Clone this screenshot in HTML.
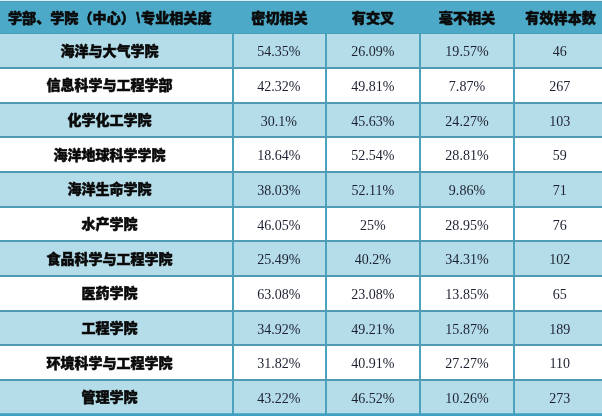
<!DOCTYPE html>
<html><head><meta charset="utf-8">
<style>
html,body{margin:0;padding:0;background:#fff;}
body{width:602px;height:416px;overflow:hidden;position:relative;}
.c{position:absolute;text-align:center;white-space:nowrap;width:300px;height:30px;line-height:30px;}
.h{font-family:"Liberation Sans","Noto Sans CJK SC",sans-serif;font-weight:900;font-size:14.1px;color:#0a0a0a;-webkit-text-stroke:0.5px #0a0a0a;}
.bs{margin:0 1px 0 1.3px;}
.n{font-family:"Liberation Sans","Noto Sans CJK SC",sans-serif;font-weight:900;font-size:14px;color:#0a0a0a;-webkit-text-stroke:0.5px #0a0a0a;}
.v{font-family:"Liberation Serif",serif;font-size:14.05px;color:#1c2030;transform:scale(1,1.1);}
</style></head><body>

<svg width="602" height="416" viewBox="0 0 602 416" style="position:absolute;left:0;top:0">
<rect x="0" y="0" width="602" height="34.00" fill="#4da9c8"/>
<rect x="0" y="0" width="602" height="1" fill="#d6f1f5"/>
<rect x="0" y="1" width="602" height="1" fill="#509fb8"/>
<rect x="0" y="33.00" width="602" height="1" fill="#4a9db8"/>
<rect x="0" y="34.00" width="602" height="34.00" fill="#b5dde9"/>
<rect x="0" y="103.00" width="602" height="34.00" fill="#b5dde9"/>
<rect x="0" y="172.00" width="602" height="35.00" fill="#b5dde9"/>
<rect x="0" y="241.00" width="602" height="35.00" fill="#b5dde9"/>
<rect x="0" y="311.00" width="602" height="34.00" fill="#b5dde9"/>
<rect x="0" y="380.00" width="602" height="35.00" fill="#b5dde9"/>
<rect x="232.00" y="34.00" width="2.00" height="390" fill="#4da3be"/>
<rect x="325.00" y="34.00" width="2.00" height="390" fill="#4da3be"/>
<rect x="419.00" y="34.00" width="2.00" height="390" fill="#4da3be"/>
<rect x="513.00" y="34.00" width="2.00" height="390" fill="#4da3be"/>
<rect x="0" y="67.00" width="602" height="2.00" fill="#4f9ab5"/>
<rect x="0" y="102.00" width="602" height="2.00" fill="#4f9ab5"/>
<rect x="0" y="136.00" width="602" height="2.00" fill="#4f9ab5"/>
<rect x="0" y="171.00" width="602" height="2.00" fill="#4f9ab5"/>
<rect x="0" y="206.00" width="602" height="2.00" fill="#4f9ab5"/>
<rect x="0" y="240.00" width="602" height="2.00" fill="#4f9ab5"/>
<rect x="0" y="275.00" width="602" height="2.00" fill="#4f9ab5"/>
<rect x="0" y="310.00" width="602" height="2.00" fill="#4f9ab5"/>
<rect x="0" y="344.00" width="602" height="2.00" fill="#4f9ab5"/>
<rect x="0" y="379.00" width="602" height="2.00" fill="#4f9ab5"/>
<rect x="0" y="413.25" width="602" height="3" fill="#3fa0bf"/>
</svg>
<div class="c h" style="left:8px;text-align:left;top:2.80px">学部、学院（中心）<span class="bs">\</span>专业相关度</div>
<div class="c h" style="left:129.50px;top:2.80px">密切相关</div>
<div class="c h" style="left:223.00px;top:2.80px">有交叉</div>
<div class="c h" style="left:317.00px;top:2.80px">毫不相关</div>
<div class="c h" style="left:410.60px;top:2.80px">有效样本数</div>
<div class="c n" style="left:-40.50px;top:35.65px">海洋与大气学院</div>
<div class="c v" style="left:128.90px;top:35.20px">54.35%</div>
<div class="c v" style="left:222.80px;top:35.20px">26.09%</div>
<div class="c v" style="left:317.00px;top:35.20px">19.57%</div>
<div class="c v" style="left:409.70px;top:35.20px">46</div>
<div class="c n" style="left:-40.50px;top:70.32px">信息科学与工程学部</div>
<div class="c v" style="left:128.90px;top:69.87px">42.32%</div>
<div class="c v" style="left:222.80px;top:69.87px">49.81%</div>
<div class="c v" style="left:317.00px;top:69.87px">7.87%</div>
<div class="c v" style="left:409.70px;top:69.87px">267</div>
<div class="c n" style="left:-40.50px;top:104.98px">化学化工学院</div>
<div class="c v" style="left:128.90px;top:104.53px">30.1%</div>
<div class="c v" style="left:222.80px;top:104.53px">45.63%</div>
<div class="c v" style="left:317.00px;top:104.53px">24.27%</div>
<div class="c v" style="left:409.70px;top:104.53px">103</div>
<div class="c n" style="left:-40.50px;top:139.65px">海洋地球科学学院</div>
<div class="c v" style="left:128.90px;top:139.20px">18.64%</div>
<div class="c v" style="left:222.80px;top:139.20px">52.54%</div>
<div class="c v" style="left:317.00px;top:139.20px">28.81%</div>
<div class="c v" style="left:409.70px;top:139.20px">59</div>
<div class="c n" style="left:-40.50px;top:174.32px">海洋生命学院</div>
<div class="c v" style="left:128.90px;top:173.87px">38.03%</div>
<div class="c v" style="left:222.80px;top:173.87px">52.11%</div>
<div class="c v" style="left:317.00px;top:173.87px">9.86%</div>
<div class="c v" style="left:409.70px;top:173.87px">71</div>
<div class="c n" style="left:-40.50px;top:208.99px">水产学院</div>
<div class="c v" style="left:128.90px;top:208.54px">46.05%</div>
<div class="c v" style="left:222.80px;top:208.54px">25%</div>
<div class="c v" style="left:317.00px;top:208.54px">28.95%</div>
<div class="c v" style="left:409.70px;top:208.54px">76</div>
<div class="c n" style="left:-40.50px;top:243.65px">食品科学与工程学院</div>
<div class="c v" style="left:128.90px;top:243.20px">25.49%</div>
<div class="c v" style="left:222.80px;top:243.20px">40.2%</div>
<div class="c v" style="left:317.00px;top:243.20px">34.31%</div>
<div class="c v" style="left:409.70px;top:243.20px">102</div>
<div class="c n" style="left:-40.50px;top:278.32px">医药学院</div>
<div class="c v" style="left:128.90px;top:277.87px">63.08%</div>
<div class="c v" style="left:222.80px;top:277.87px">23.08%</div>
<div class="c v" style="left:317.00px;top:277.87px">13.85%</div>
<div class="c v" style="left:409.70px;top:277.87px">65</div>
<div class="c n" style="left:-40.50px;top:312.99px">工程学院</div>
<div class="c v" style="left:128.90px;top:312.54px">34.92%</div>
<div class="c v" style="left:222.80px;top:312.54px">49.21%</div>
<div class="c v" style="left:317.00px;top:312.54px">15.87%</div>
<div class="c v" style="left:409.70px;top:312.54px">189</div>
<div class="c n" style="left:-40.50px;top:347.65px">环境科学与工程学院</div>
<div class="c v" style="left:128.90px;top:347.20px">31.82%</div>
<div class="c v" style="left:222.80px;top:347.20px">40.91%</div>
<div class="c v" style="left:317.00px;top:347.20px">27.27%</div>
<div class="c v" style="left:409.70px;top:347.20px">110</div>
<div class="c n" style="left:-40.50px;top:382.32px">管理学院</div>
<div class="c v" style="left:128.90px;top:381.87px">43.22%</div>
<div class="c v" style="left:222.80px;top:381.87px">46.52%</div>
<div class="c v" style="left:317.00px;top:381.87px">10.26%</div>
<div class="c v" style="left:409.70px;top:381.87px">273</div>
</body></html>
